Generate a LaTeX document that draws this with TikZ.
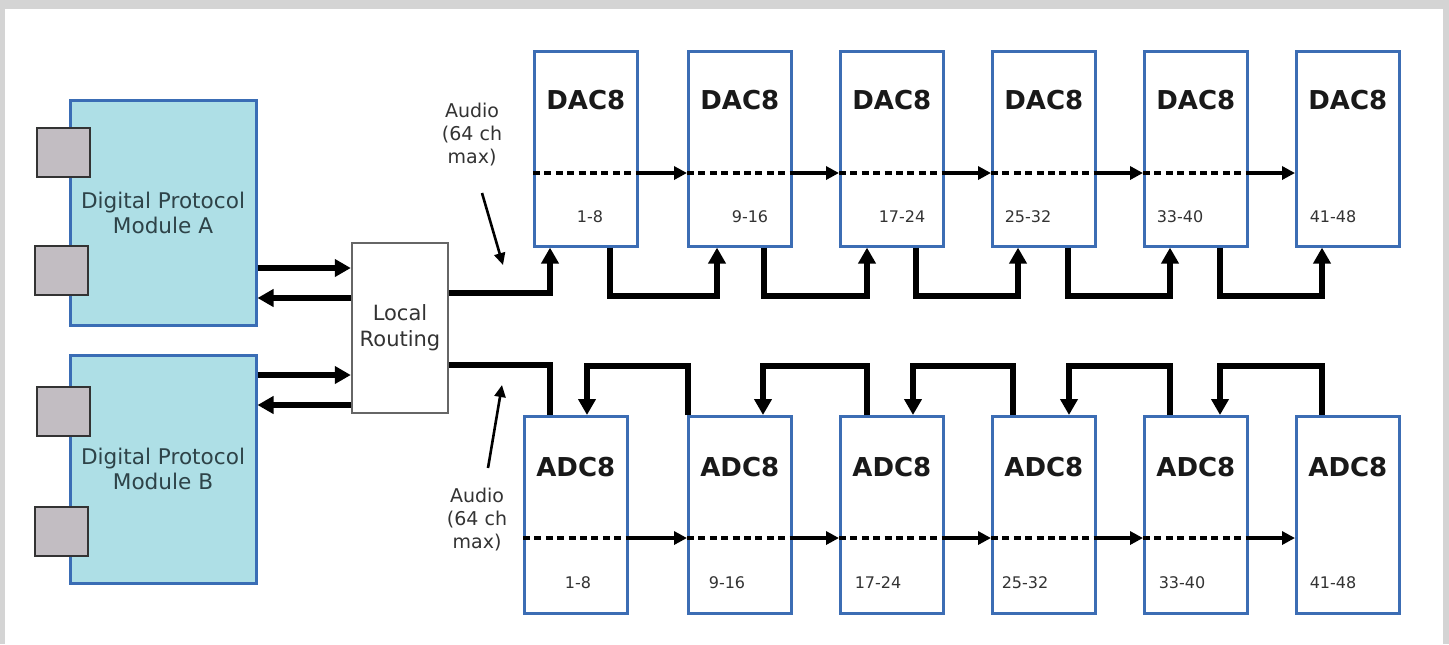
\documentclass[tikz,border=0pt]{standalone}
\usepackage{fontspec}
\setmainfont{DejaVu Sans}
\usetikzlibrary{arrows.meta,calc}
\definecolor{bgray}{HTML}{D4D4D4}
\definecolor{modfill}{HTML}{AEDFE6}
\definecolor{modline}{HTML}{3A6DB5}
\definecolor{boxline}{HTML}{3C6DB4}
\definecolor{plugfill}{HTML}{C2BDC2}
\definecolor{modtext}{HTML}{2E4348}
\tikzset{
  modbox/.style={draw=modline, fill=modfill, line width=1.5pt, inner sep=0pt,
    minimum width=93pt, align=center, text=modtext,
    font=\fontsize{10.8}{12.5}\selectfont},
  plugbox/.style={draw=black!80, fill=plugfill, line width=1pt, inner sep=0pt,
    minimum width=26.5pt, minimum height=24.5pt},
  lrbox/.style={draw=black!60, fill=white, line width=1.2pt, inner sep=0pt,
    minimum width=48pt, minimum height=85pt, align=center, text=black!80,
    font=\fontsize{10.5}{13}\selectfont},
  dacbox/.style={draw=boxline, fill=white, line width=1.3pt, inner sep=0pt,
    minimum width=51.5pt},
  boxtitle/.style={font=\fontsize{13}{15}\selectfont\bfseries, text=black!90, inner sep=0pt},
  rangetxt/.style={font=\fontsize{8}{9}\selectfont, text=black!80, inner sep=0pt},
  audiotxt/.style={font=\fontsize{9.5}{11.5}\selectfont, align=center, text=black!80, inner sep=0pt},
  busarrow/.style={line width=2.9pt, -{Triangle[length=8pt,width=8.5pt]}},
  busplain/.style={line width=2.9pt},
  dashline/.style={line width=1.8pt, dash pattern=on 3.5pt off 2.2pt},
  chainarrow/.style={line width=2.2pt, -{Triangle[length=6.5pt,width=6.5pt]}},
  ptrarrow/.style={line width=1.3pt, -{Triangle[length=6pt,width=5.5pt]}}
}
\begin{document}
\begin{tikzpicture}[x=0.5pt,y=-0.5pt]
\fill[bgray] (0,0) rectangle (1449,644);
\fill[white] (5,9) rectangle (1443,644);
\useasboundingbox (0,0) rectangle (1449,644);

% modules
\node[modbox, minimum height=112.5pt] (ma) at (163,212.5) {Digital Protocol\\Module A};
\node[modbox, minimum height=114pt] (mb) at (163,469) {Digital Protocol\\Module B};
\node[plugbox] (pa1) at (63.5,152.5) {};
\node[plugbox] (pa2) at (61,270.5) {};
\node[plugbox] (pb1) at (63.5,411.5) {};
\node[plugbox] (pb2) at (61,531.5) {};

% local routing
\node[lrbox] (lr) at (400,328) {Local\\Routing};

% module <-> routing
\draw[busarrow] (ma.east |- 0,268) -- (lr.west |- 0,268);
\draw[busarrow] (lr.west |- 0,298) -- (ma.east |- 0,298);
\draw[busarrow] (mb.east |- 0,375) -- (lr.west |- 0,375);
\draw[busarrow] (lr.west |- 0,405) -- (mb.east |- 0,405);

% DAC boxes
\foreach \i/\x in {1/533,2/687,3/839,4/991,5/1143,6/1295}{
  \node[dacbox, minimum height=97.5pt, anchor=north west] (d\i) at (\x,50) {};
  \node[boxtitle] (dt\i) at (d\i.center |- 0,100) {DAC8};
}
\foreach \i/\x/\r in {1/590/1-8,2/750/9-16,3/902/17-24,4/1028/25-32,5/1180/33-40,6/1333/41-48}{
  \node[rangetxt] (dr\i) at (\x,217) {\r};
}

% ADC boxes
\foreach \i/\x in {1/523,2/687,3/839,4/991,5/1143,6/1295}{
  \node[dacbox, minimum height=98.5pt, anchor=north west] (a\i) at (\x,415) {};
  \node[boxtitle] (at\i) at (a\i.center |- 0,467) {ADC8};
}
\foreach \i/\x/\r in {1/578/1-8,2/727/9-16,3/878/17-24,4/1025/25-32,5/1182/33-40,6/1333/41-48}{
  \node[rangetxt] (ar\i) at (\x,583) {\r};
}

% cascade lines
\foreach \i/\j in {1/2,2/3,3/4,4/5,5/6}{
  \draw[dashline] (d\i.west |- 0,173) -- (d\i.east |- 0,173);
  \draw[chainarrow] (d\i.east |- 0,173) -- (d\j.west |- 0,173);
  \draw[dashline] (a\i.west |- 0,538) -- (a\i.east |- 0,538);
  \draw[chainarrow] (a\i.east |- 0,538) -- (a\j.west |- 0,538);
}

% DAC bus
\draw[busarrow] (lr.east |- 0,293) -| ($(d1.south west)+(17,0)$);
\foreach \i/\j/\o in {1/2/30,2/3/28,3/4/27,4/5/27,5/6/27}{
  \draw[busarrow] ($(d\i.south west)+(77,0)$) -- ++(0,48) -| ($(d\j.south west)+(\o,0)$);
}

% ADC bus
\draw[busplain] (lr.east |- 0,365) -| ($(a1.north west)+(27,0)$);
\foreach \i/\j/\oi/\oo in {1/2/64/1,2/3/76/28,3/4/74/22,4/5/78/27,5/6/77/27}{
  \draw[busarrow] ($(a\j.north west)+(\oo,0)$) -- ++(0,-49) -| ($(a\i.north west)+(\oi,0)$);
}

% audio labels
\node[audiotxt] (au1) at (472,135) {Audio\\(64 ch\\max)};
\coordinate (au1s) at (482,193);
\coordinate (au1e) at (503,265);
\draw[ptrarrow] (au1s) -- (au1e);
\node[audiotxt] (au2) at (477,520) {Audio\\(64 ch\\max)};
\coordinate (au2s) at (488,468);
\coordinate (au2e) at (502,385);
\draw[ptrarrow] (au2s) -- (au2e);
\end{tikzpicture}
\end{document}
